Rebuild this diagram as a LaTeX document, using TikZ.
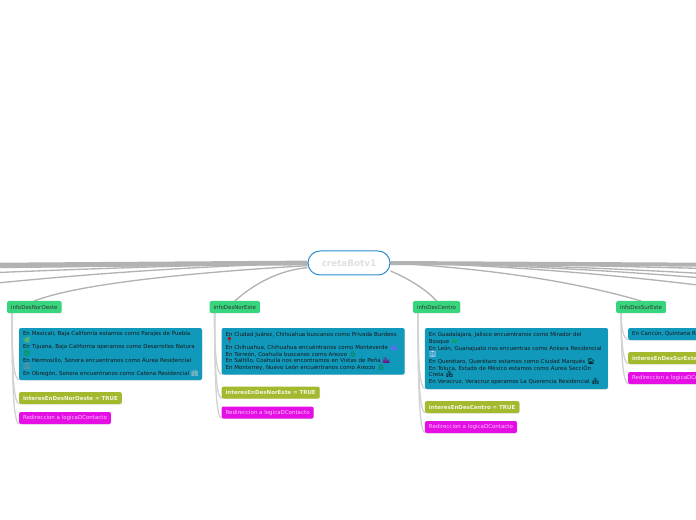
\documentclass[tikz,border=0pt]{standalone}
\usepackage{fontspec}
\setmainfont{DejaVu Sans}
\newfontfamily\emojifont{Noto Emoji}
\usetikzlibrary{positioning,backgrounds,shadows}

\definecolor{azulBorde}{HTML}{2B8FCB}
\definecolor{verdeInfo}{HTML}{37D67E}
\definecolor{azulTexto}{HTML}{1199BB}
\definecolor{oliva}{HTML}{A5B92F}
\definecolor{magenta}{HTML}{E50FE6}
\definecolor{lineaGris}{HTML}{B2B2B2}
\definecolor{lineaClara}{HTML}{D2D2D2}

\newcommand{\icono}[2]{\leavevmode\rlap{\smash{\emojifont\fontsize{4.6}{5}\selectfont\textcolor{#1}{#2}}}}

\begin{document}
\begin{tikzpicture}[
	x=0.75pt,
	y=-0.75pt,
	font=\fontsize{4.12}{5}\selectfont,
	raiz/.style={
		draw=azulBorde,
		fill=white,
		line width=0.75pt,
		rounded corners=9pt,
		minimum width=61.5pt,
		minimum height=18pt,
		text=black!12,
		font=\fontsize{6.6}{8}\selectfont\bfseries,
	},
	caja/.style={
		rounded corners=1.5pt,
		inner xsep=3pt,
		inner ysep=0pt,
		outer sep=0pt,
		minimum height=9pt,
		drop shadow={opacity=0.2,shadow xshift=0.3pt,shadow yshift=-0.5pt},
	},
	info/.style={caja, fill=verdeInfo, text=black!80},
	detalle/.style={
		caja,
		fill=azulTexto,
		text=black!90,
		text width=131.25pt,
		align=left,
	},
	interes/.style={caja, fill=oliva, text=white!85!oliva, font=\fontsize{4.12}{5}\selectfont\bfseries},
	redir/.style={caja, fill=magenta, text=white!75!magenta},
	rama/.style={draw=lineaGris, line width=1pt},
	hijo/.style={draw=lineaClara, line width=1pt},
]
\path[use as bounding box] (0,0) rectangle (696,520);

\node[raiz] (creta) at (349,263) {cretaBotv1};

\node[info, anchor=north west] (norOeste) at (7,301) {infoDesNorOeste};
\node[info, right=111pt of norOeste] (norEste) {infoDesNorEste};
\node[info, right=114.75pt of norEste] (centro) {infoDesCentro};
\node[info, right=117pt of centro] (surEste) {infoDesSurEste};

% NorOeste
\node[detalle, minimum height=39pt, below right=11.25pt and 9pt of norOeste.south west] (detNorOeste) {
	En Mexicali, Baja California estamos como Parajes de Puebla\\
	\icono{yellow!70!green}{🌿}\\
	En Tijuana, Baja California operamos como Desarrollos Natura\\
	\icono{green!60!black}{🌐}\\
	En Hermosillo, Sonora encuentranos como Áurea Residencial\\
	\icono{black!45}{🏢}\\
	En Obregón, Sonora encuentranos como Catena Residencial \icono{black!20}{🏨}
};
\node[interes, below right=9pt and 0pt of detNorOeste.south west] (intNorOeste) {interesEnDesNorOeste = TRUE};
\node[redir, below right=6pt and 0pt of intNorOeste.south west] (redNorOeste) {Redireccion a logicaDContacto};

% NorEste
\node[detalle, minimum height=34.9pt, below right=11.25pt and 9pt of norEste.south west] (detNorEste) {
	En Ciudad Juárez, Chihuahua buscanos como Privada Burdeos\\
	\icono{red!80!black}{📍}\\
	En Chihuahua, Chihuahua encuéntranos como Monteverde \icono{blue!60}{🏙}\\
	En Torreón, Coahuila buscanos como Arezzo \icono{green!45!black}{🌲}\\
	En Saltillo, Coahuila nos encontramos en Vistas de Peña \icono{violet}{🌆}\\
	En Monterrey, Nuevo León encuéntranos como Arezzo \icono{green!45!black}{🌲}
};
\node[interes, below right=9pt and 0pt of detNorEste.south west] (intNorEste) {interesEnDesNorEste = TRUE};
\node[redir, below right=6pt and 0pt of intNorEste.south west] (redNorEste) {Redireccion a logicaDContacto};

% Centro
\node[detalle, minimum height=45.75pt, below right=11.25pt and 9pt of centro.south west] (detCentro) {
	En Guadalajara, Jalisco encuentranos como Mirador del\\
	Bosque \icono{green!70!black}{🌳}\\
	En León, Guanajuato nos encuentras como Ankara Residencial\\
	\icono{blue!15}{🏢}\\
	En Querétaro, Querétaro estamos como Ciudad Marqués \icono{black}{🏠}\\
	En Toluca, Estado de México estamos como Áurea SecciÓn\\
	Creta \icono{black}{🏘}\\
	En Veracruz, Veracruz operamos La Querencia Residencial \icono{black}{🏘}
};
\node[interes, below right=9pt and 0pt of detCentro.south west] (intCentro) {interesEnDesCentro = TRUE};
\node[redir, below right=6pt and 0pt of intCentro.south west] (redCentro) {Redireccion a logicaDContacto};

% SurEste, cortado por el borde
\node[detalle, below right=11.25pt and 9pt of surEste.south west] (detSurEste) {
	En Cancún, Quintana Roo
};
\node[interes, below right=9pt and 0pt of detSurEste.south west] (intSurEste) {interesEnDesSurEste = TRUE};
\node[redir, below right=6pt and 0pt of intSurEste.south west] (redSurEste) {Redireccion a logicaDContacto};

% Ramas que siguen fuera del dibujo
\coordinate (fueraIzqA) at (-60,265.5);
\coordinate (fueraIzqB) at (-60,268);
\coordinate (fueraIzqC) at (-60,275);
\coordinate (fueraIzqD) at (-60,289);
\coordinate (fueraDerA) at (760,265);
\coordinate (fueraDerB) at (760,270);
\coordinate (fueraDerC) at (760,277);
\coordinate (fueraDerD) at (760,283);
\coordinate (fueraDerE) at (760,293);

\begin{scope}[on background layer]
\draw[rama, line width=3.6pt] (creta.west) -- (fueraIzqA);
\draw[rama] (creta.west) .. controls (200,265) and (80,267) .. (fueraIzqB);
\draw[rama] (creta.west) .. controls (220,265) and (120,267) .. (fueraIzqC);
\draw[rama] (creta.west) .. controls (250,265) and (120,269) .. (fueraIzqD);
\draw[rama, line width=3pt] (creta.east) -- (fueraDerA);
\draw[rama] (creta.east) .. controls (500,264) and (620,266) .. (fueraDerB);
\draw[rama] (creta.east) .. controls (500,264) and (620,268) .. (fueraDerC);
\draw[rama] (creta.east) .. controls (470,264) and (600,268) .. (fueraDerD);
\draw[rama] (creta.east) .. controls (470,264) and (600,271) .. (fueraDerE);

\draw[rama] ([yshift=-2pt]creta.west) .. controls (200,272) and (80,283) .. (norOeste.north);
\draw[rama] ([yshift=-3.5pt]creta.west) .. controls (280,270) and (255,283) .. (norEste.north);
\draw[rama] ([yshift=-6pt]creta.east) .. controls (405,277) and (425,288) .. (centro.north);
\draw[rama] (creta.east) .. controls (480,268) and (570,280) .. (surEste.north);

\draw[hijo] ([xshift=3.75pt]norOeste.south west) .. controls +(0,50) and +(-5,-2) .. (detNorOeste.south west);
\draw[hijo] ([xshift=3.75pt]norOeste.south west) .. controls +(0,65) and +(-5,-2) .. (intNorOeste.south west);
\draw[hijo] ([xshift=3.75pt]norOeste.south west) .. controls +(0,80) and +(-5,-2) .. (redNorOeste.south west);
\draw[hijo] ([xshift=3.75pt]norEste.south west) .. controls +(0,45) and +(-5,-2) .. (detNorEste.south west);
\draw[hijo] ([xshift=3.75pt]norEste.south west) .. controls +(0,60) and +(-5,-2) .. (intNorEste.south west);
\draw[hijo] ([xshift=3.75pt]norEste.south west) .. controls +(0,75) and +(-5,-2) .. (redNorEste.south west);
\draw[hijo] ([xshift=3.75pt]centro.south west) .. controls +(0,55) and +(-5,-2) .. (detCentro.south west);
\draw[hijo] ([xshift=3.75pt]centro.south west) .. controls +(0,70) and +(-5,-2) .. (intCentro.south west);
\draw[hijo] ([xshift=3.75pt]centro.south west) .. controls +(0,85) and +(-5,-2) .. (redCentro.south west);
\draw[hijo] ([xshift=3.75pt]surEste.south west) .. controls +(0,15) and +(-5,-2) .. (detSurEste.south west);
\draw[hijo] ([xshift=3.75pt]surEste.south west) .. controls +(0,30) and +(-5,-2) .. (intSurEste.south west);
\draw[hijo] ([xshift=3.75pt]surEste.south west) .. controls +(0,45) and +(-5,-2) .. (redSurEste.south west);
\end{scope}

\end{tikzpicture}
\end{document}
